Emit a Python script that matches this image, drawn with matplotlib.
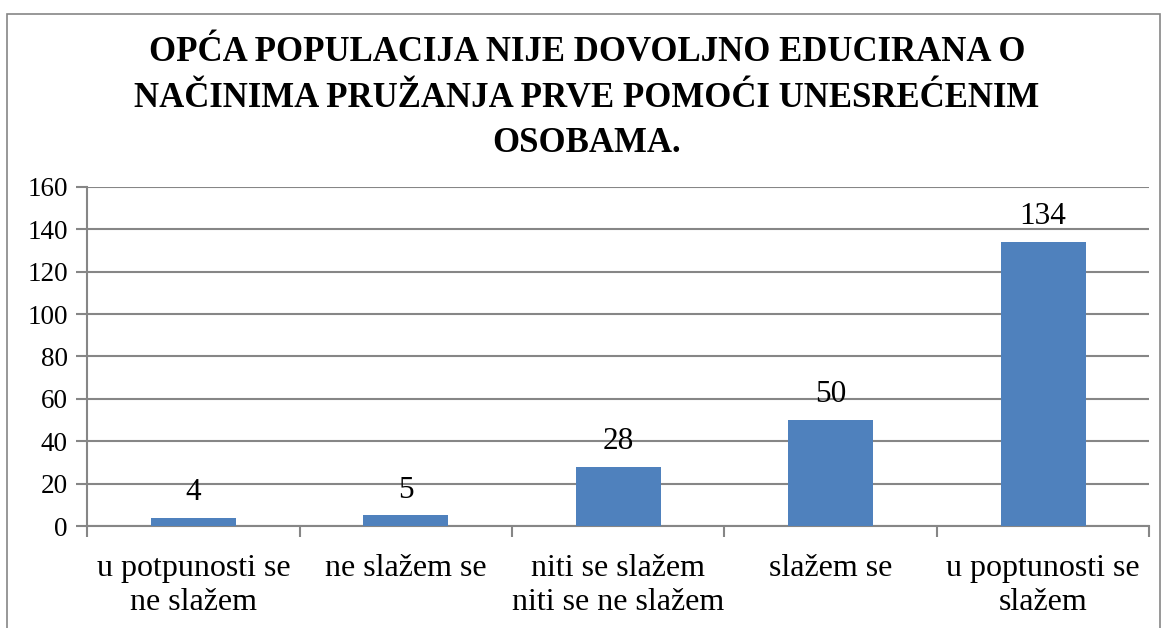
import matplotlib
matplotlib.use("Agg")
import matplotlib.pyplot as plt
from matplotlib.patches import Rectangle

categories = ["u potpunosti se\nne slažem", "ne slažem se", "niti se slažem\nniti se ne slažem",
              "slažem se", "u poptunosti se\nslažem"]
values = [4, 5, 28, 50, 134]
yticks = [0, 20, 40, 60, 80, 100, 120, 140, 160]
title = "OPĆA POPULACIJA NIJE DOVOLJNO EDUCIRANA O\nNAČINIMA PRUŽANJA PRVE POMOĆI UNESREĆENIM\nOSOBAMA."

plt.rcParams['font.family'] = ['Liberation Serif', 'DejaVu Serif']
grid_c = "#868686"

fig = plt.figure(figsize=(11.67, 6.28), dpi=100)
fig.patches.append(Rectangle((0.006, -0.01), 0.988, 0.988, transform=fig.transFigure,
                             fill=False, edgecolor=grid_c, linewidth=1.2))
ax = fig.add_axes([0.0748, 0.1624, 0.910, 0.540])

x = list(range(len(categories)))
ax.bar(x, values, width=0.40, color="#4F81BD", zorder=3)
for xi, v in zip(x, values):
    ax.text(xi, v + 5, str(v), ha="center", va="bottom", fontsize=22.5)

ax.set_xlim(-0.5, len(categories) - 0.5)
ax.set_ylim(0, 160)
ax.set_yticks(yticks)
ax.set_yticklabels([str(t) for t in yticks], fontsize=19.5)
ax.yaxis.grid(True, color=grid_c, linewidth=1.5, zorder=0)
ax.tick_params(axis="y", length=8, width=1.5, color=grid_c, pad=6)

ax.set_xticks([i - 0.5 for i in range(len(categories) + 1)])
ax.set_xticklabels([])
ax.set_xticks(x, minor=True)
ax.set_xticklabels(categories, minor=True, fontsize=23, linespacing=1.25)
ax.tick_params(axis="x", which="minor", length=0, pad=20)
ax.tick_params(axis="x", which="major", length=8, width=1.5, color=grid_c)

for s in ["top", "right"]:
    ax.spines[s].set_visible(False)
for s in ["left", "bottom"]:
    ax.spines[s].set_color(grid_c)
    ax.spines[s].set_linewidth(1.5)

fig.text(0.503, 0.942, title, ha="center", va="top", fontsize=25, fontweight="bold",
         linespacing=1.5)

fig.savefig("out.png", dpi=100)
